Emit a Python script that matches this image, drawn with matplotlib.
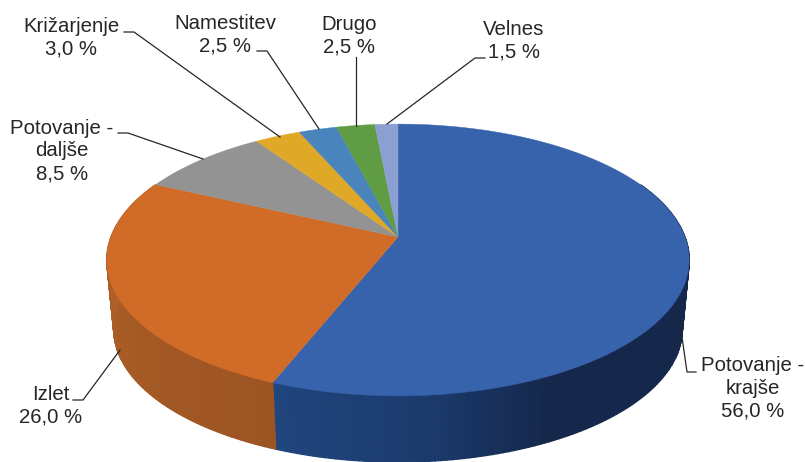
import numpy as np
import matplotlib
matplotlib.use("Agg")
import matplotlib.pyplot as plt
from matplotlib.colors import LinearSegmentedColormap

plt.rcParams['font.family'] = ['Liberation Sans', 'DejaVu Sans']

names = ["Potovanje -\nkrajše", "Izlet", "Potovanje -\ndaljše", "Križarjenje", "Namestitev", "Drugo", "Velnes"]
shares = [56.0, 26.0, 8.5, 3.0, 2.5, 2.5, 1.5]
colors = ["#3762AC", "#D06C27", "#939393", "#DFA826", "#4A84BC", "#609C43", "#8C9FD3"]

label_pos = [(753, 388), (51, 406), (62, 151), (71, 38), (225, 35), (349, 36), (514, 41)]
leaders = [
    [(696, 372), (687, 372), (680, 323)],
    [(73, 400), (83, 400), (120, 350)],
    [(118, 133), (128, 133), (203, 159)],
    [(124, 32), (134, 32), (280, 137)],
    [(257, 51), (267, 51), (319, 129)],
    [(356, 57), (356, 126)],
    [(485, 58), (475, 58), (387, 124)],
]

# shading of the visible side, left to right
side_shades = {
    0: LinearSegmentedColormap.from_list("blue", [(0, "#20467E"), (0.2, "#1B3A6C"), (0.36, "#15274A"), (1, "#14264A")]),
    1: LinearSegmentedColormap.from_list("orange", ["#B56427", "#9C5423"]),
}

CX, CY = 398, 237
B, A, K = 287, 132, 0.169
DEPTH, SHRINK = 67, 0.976


def project(theta):
    # circle point to screen, with a bit of perspective
    u, v = np.sin(theta), np.cos(theta)
    den = 1 + K * v
    return CX + B * u / den, CY - A * v / den


def lower(x, y):
    return CX + (x - CX) * SHRINK, CY + (y - CY) * SHRINK + DEPTH + 3


fig = plt.figure(figsize=(8.05, 4.62), dpi=100)
ax = fig.add_axes([0, 0, 1, 1])
ax.set_xlim(0, 805)
ax.set_ylim(462, 0)
ax.axis("off")

edges = np.radians(np.concatenate([[0], np.cumsum(shares)]) * 3.6)

# side wall
for i, col in enumerate(colors):
    lo, hi = max(edges[i], np.radians(65)), min(edges[i + 1], np.radians(295))
    if hi <= lo:
        continue
    ts = np.linspace(lo, hi, int(np.degrees(hi - lo)) + 2)
    for t0, t1 in zip(ts[:-1], ts[1:]):
        x0, y0 = project(t0)
        x1, y1 = project(t1)
        lx0, ly0 = lower(x0, y0)
        lx1, ly1 = lower(x1, y1)
        if i in side_shades:
            t = (t0 - lo) / (hi - lo)
            shade = side_shades[i](1 - t)
        else:
            shade = col
        ax.fill([x0, x1, lx1, lx0], [y0, y1, ly1, ly0], color=shade, lw=1.0, zorder=2)

# top face
for i, col in enumerate(colors):
    ts = np.linspace(edges[i], edges[i + 1], 200)
    xs, ys = project(ts)
    ax.fill(np.r_[CX, xs], np.r_[CY, ys], color=col, lw=0.3, zorder=3)

for pts in leaders:
    xs, ys = zip(*pts)
    ax.plot(xs, ys, color="#262626", lw=0.9, zorder=4, solid_joinstyle="miter")

for name, val, pos in zip(names, shares, label_pos):
    txt = name + "\n" + f"{val:.1f}".replace(".", ",") + " %"
    ax.text(pos[0], pos[1], txt, ha="center", va="center", fontsize=14.7,
            color="#262626", linespacing=1.26, zorder=5)

fig.savefig("out.png", dpi=100)
